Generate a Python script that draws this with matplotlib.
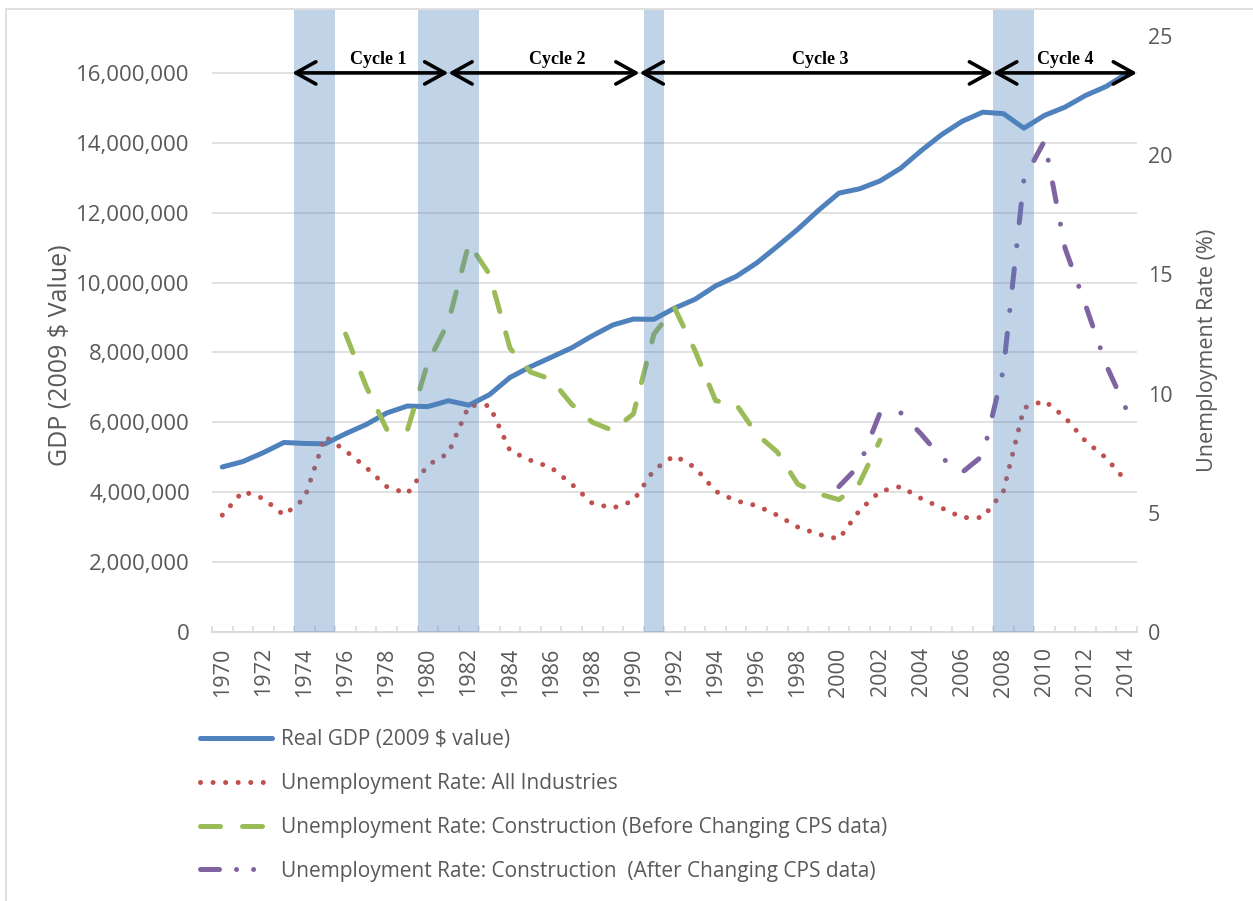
import numpy as np
import matplotlib
matplotlib.use("Agg")
import matplotlib.pyplot as plt
from matplotlib.lines import Line2D
from matplotlib.patches import Rectangle
from matplotlib.ticker import FuncFormatter

# ---- data ----
years = list(range(1970, 2015))
gdp = [4722, 4877, 5134, 5424, 5396, 5385, 5675, 5937, 6267, 6466,
       6450, 6618, 6491, 6792, 7285, 7594, 7861, 8133, 8475, 8786,
       8955, 8948, 9267, 9521, 9905, 10175, 10561, 11035, 11526, 12066,
       12560, 12682, 12909, 13271, 13774, 14236, 14615, 14877, 14834, 14418,
       14784, 15021, 15355, 15612, 15982]
gdp = [v * 1000 for v in gdp]

unemp_all = [4.9, 5.9, 5.6, 4.9, 5.6, 8.2, 7.6, 6.9, 6.1, 5.8,
             7.0, 7.5, 9.5, 9.5, 7.6, 7.2, 6.9, 6.2, 5.4, 5.2,
             5.5, 6.8, 7.4, 6.9, 5.9, 5.5, 5.3, 4.9, 4.4, 4.1,
             3.9, 5.1, 5.9, 6.1, 5.6, 5.2, 4.8, 4.8, 5.9, 9.4,
             9.7, 9.0, 8.0, 7.3, 6.3]

constr_before_years = list(range(1976, 2003))
constr_before = [12.5, 10.3, 8.5, 8.45, 11.3, 13.0, 16.3, 15.0, 11.9, 10.9,
                 10.6, 9.55, 8.8, 8.45, 9.15, 12.5, 13.6, 11.8, 9.7, 9.55,
                 8.3, 7.55, 6.2, 5.8, 5.55, 6.25, 8.05]

constr_after_years = list(range(2000, 2015))
constr_after = [6.1, 7.0, 9.2, 9.2, 8.3, 7.3, 6.7, 7.4, 11.0, 19.0,
                20.6, 16.1, 13.7, 11.2, 9.3]

recessions = [(1974, 1975), (1980, 1982), (1991, 1991), (2008, 2009)]
cycle_bounds = [1973.4, 1981.0, 1990.3, 2007.5, 2014.5]
cycle_names = ["Cycle 1", "Cycle 2", "Cycle 3", "Cycle 4"]
cycle_label_x = [1977.6, 1986.3, 1999.1, 2011.0]

labels = ["Real GDP (2009 $ value)",
          "Unemployment Rate: All Industries",
          "Unemployment Rate: Construction (Before Changing CPS data)",
          "Unemployment Rate: Construction  (After Changing CPS data)"]

BLUE, RED, GREEN, PURPLE = "#4F81BD", "#C0504D", "#9BBB59", "#8064A2"
GRAY = "#595959"
GRID = "#D9D9D9"

plt.rcParams['font.family'] = ['Open Sans', 'DejaVu Sans']

fig = plt.figure(figsize=(12.53, 9.01), dpi=100)
ax = fig.add_axes([212 / 1253, 1 - 632 / 901, 925 / 1253, 622 / 901])
ax2 = ax.twinx()

lw = 3.6
l1, = ax.plot(years, gdp, color=BLUE, lw=lw, solid_joinstyle='round',
              solid_capstyle='round', zorder=3)
l2, = ax2.plot(years, unemp_all, color=RED, lw=lw, dashes=(0.01, 2.5),
               dash_capstyle='round', zorder=3)
l3, = ax2.plot(constr_before_years, constr_before, color=GREEN, lw=lw,
               dashes=(4, 4.4), dash_capstyle='round', zorder=3)
l4, = ax2.plot(constr_after_years, constr_after, color=PURPLE, lw=lw,
               dashes=(3.8, 4.6, 0.01, 4.6), dash_capstyle='round', zorder=3)

# recession bands (drawn over the lines, semi transparent)
for a, b in recessions:
    ax2.axvspan(a - 0.5, b + 0.5, color=BLUE, alpha=0.35, lw=0, zorder=5)

# cycle arrows along the 16,000,000 gridline
for i, name in enumerate(cycle_names):
    ax2.annotate('', xy=(cycle_bounds[i + 1], 16e6), xytext=(cycle_bounds[i], 16e6),
                 xycoords=ax.transData, textcoords=ax.transData,
                 arrowprops=dict(arrowstyle='<->,head_length=0.72,head_width=0.4',
                                 mutation_scale=20, lw=2.6, color='black',
                                 shrinkA=0, shrinkB=0),
                 zorder=6, annotation_clip=False)
    ax2.text(cycle_label_x[i], 16.14e6, name, transform=ax.transData,
             ha='center', va='bottom', fontsize=13, fontweight='bold',
             family=['Liberation Serif', 'DejaVu Serif'], zorder=7)

# axes
ax.set_xlim(1969.5, 2014.5)
ax.set_ylim(0, 17.8e6)
ax2.set_ylim(0, 26.09)
ax.set_yticks(range(0, 16000001, 2000000))
ax.yaxis.set_major_formatter(FuncFormatter(lambda v, p: f"{int(v):,}"))
ax2.set_yticks([0, 5, 10, 15, 20, 25])
ax.grid(axis='y', color=GRID, lw=1.1)
ax.set_axisbelow(True)

ax.tick_params(axis='y', length=0, pad=16, labelsize=16, labelcolor=GRAY)
ax2.tick_params(axis='y', length=0, pad=8, labelsize=15.5, labelcolor=GRAY)
ax.set_xticks(range(1970, 2015, 2))
ax.set_xticks(np.arange(1969.5, 2015, 1), minor=True)
ax.tick_params(axis='x', which='major', length=0, pad=11, rotation=90,
               labelsize=15.5, labelcolor=GRAY)
ax.tick_params(axis='x', which='minor', direction='in', length=4.5,
               width=1.1, color=GRID)

for s in ['top', 'left', 'right']:
    ax.spines[s].set_visible(False)
ax.spines['bottom'].set_color(GRID)
ax.spines['bottom'].set_linewidth(1.3)
for s in ax2.spines.values():
    s.set_visible(False)

fig.text(60 / 1253, 1 - 355 / 901, "GDP (2009 $ Value)", rotation=90,
         ha='center', va='center', fontsize=18, color=GRAY)
fig.text(1207 / 1253, 1 - 350 / 901, "Unemployment Rate (%)", rotation=90,
         ha='center', va='center', fontsize=15.5, color=GRAY)

# legend (purple handle drawn as dash-dot-dot like the original)
h4 = Line2D([], [], color=PURPLE, lw=lw, dashes=(3.8, 3.4, 0.01, 3.4, 0.01, 6),
            dash_capstyle='round')
fig.legend([l1, l2, l3, h4], labels, loc='upper left',
           bbox_to_anchor=(200 / 1253, 1 - 729 / 901), frameon=False,
           fontsize=15, handlelength=3.45, handletextpad=0.45,
           labelspacing=1.1, borderpad=0, borderaxespad=0, labelcolor=GRAY)

# chart area border
fig.patches.append(Rectangle((6 / 1253, -0.05), 1.2, 1.05 - 9 / 901, fill=False,
                             edgecolor=GRID, lw=1.2, transform=fig.transFigure,
                             figure=fig))

fig.savefig("out.png", dpi=100)
